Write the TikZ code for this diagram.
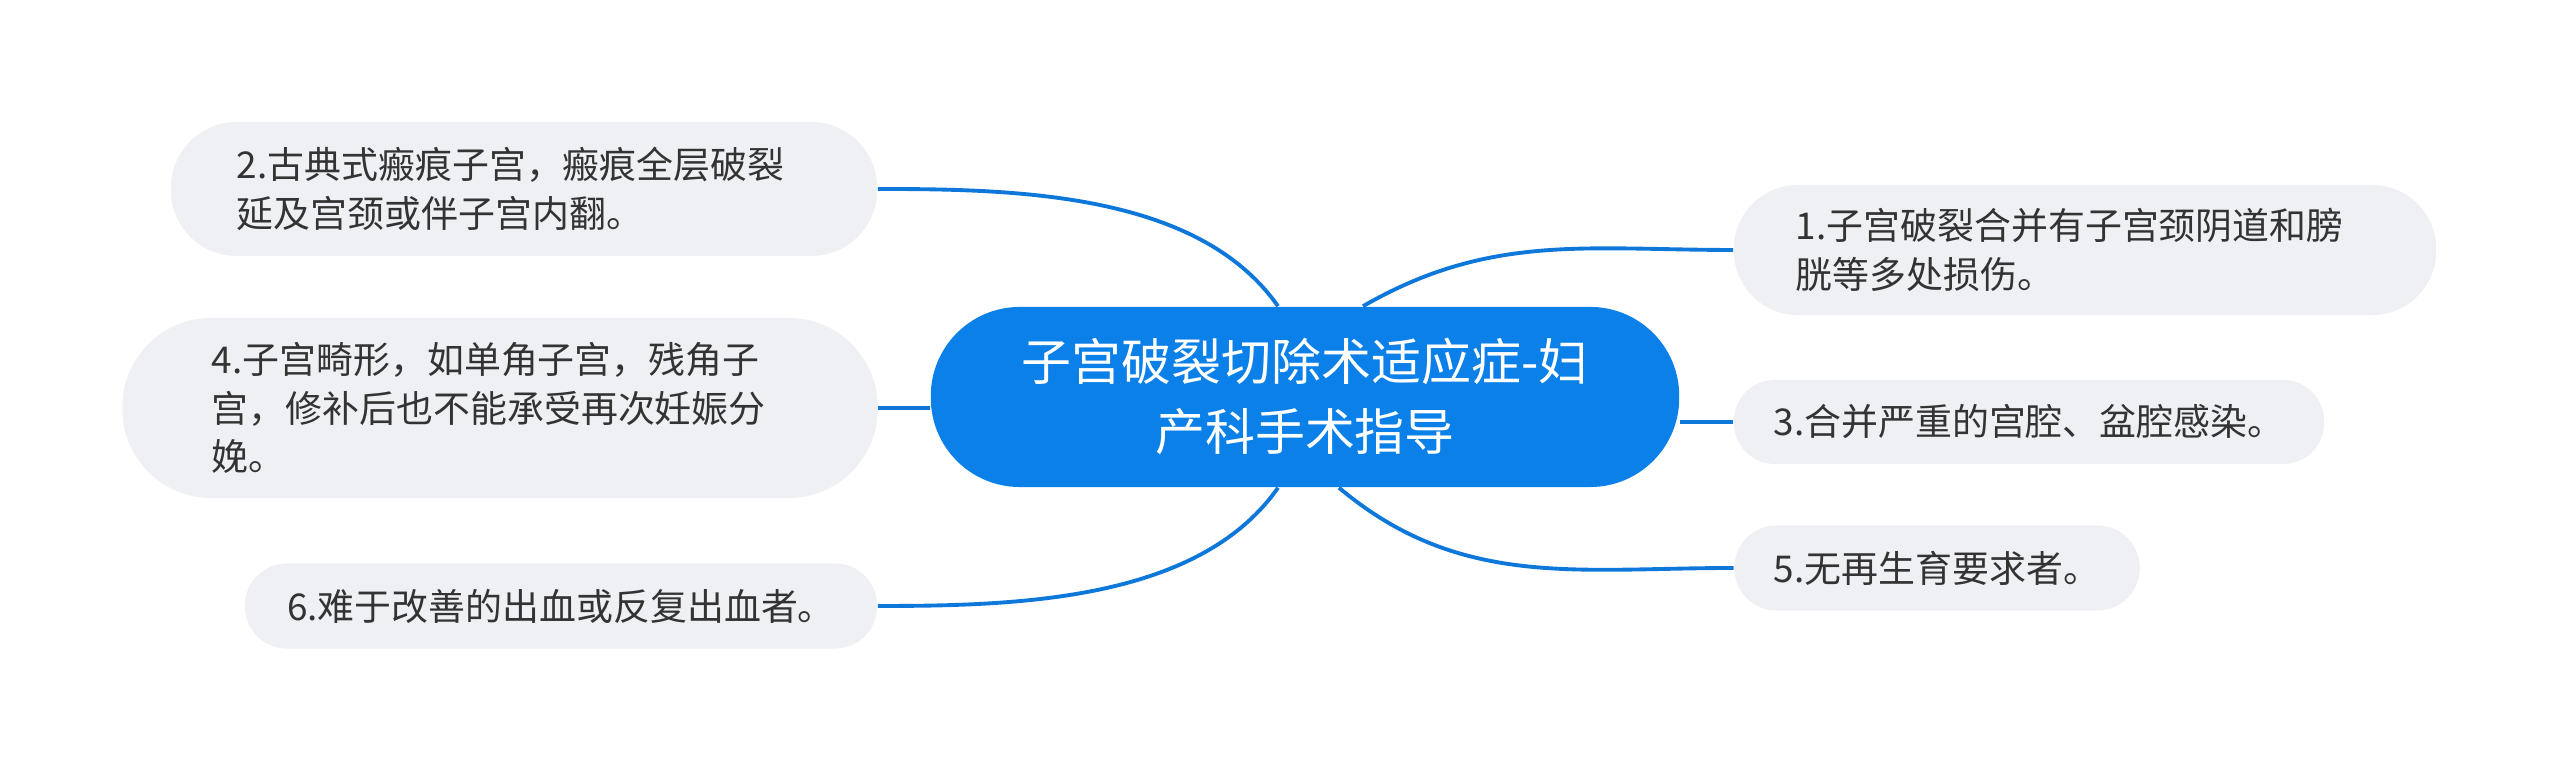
\documentclass[tikz,border=0pt]{standalone}
\usepackage{fontspec}
\setmainfont{Noto Sans CJK SC}
\usetikzlibrary{calc}

\definecolor{hubblue}{HTML}{0A80E8}
\definecolor{linkblue}{HTML}{0E78DA}
\definecolor{leafgray}{HTML}{EEF0F3}
\definecolor{leaftext}{HTML}{333333}

\begin{document}
\begin{tikzpicture}[x=0.01cm, y=0.01cm,
        hub/.style={fill=hubblue, text=white, align=center, rounded corners=0.89cm,
            minimum width=7.48cm, minimum height=1.8cm,
            font=\fontsize{14.2pt}{19.9pt}\selectfont},
        leaf/.style={fill=leafgray, text=leaftext, align=left,
            font=\fontsize{10.5pt}{13.9pt}\selectfont},
        link/.style={draw=linkblue, line width=1.1pt}]
    \useasboundingbox (0, 0) rectangle (2560, 771);

    \node[hub] (c) at (1305, 374) {子宫破裂切除术适应症-妇\\产科手术指导};

    \node[leaf, minimum width=7.06cm, minimum height=1.34cm, rounded corners=0.66cm, text width=5.74cm]
        (n2) at (524, 582) {2.古典式瘢痕子宫，瘢痕全层破裂\\延及宫颈或伴子宫内翻。};
    \node[leaf, minimum width=7.55cm, minimum height=1.8cm, rounded corners=0.89cm, text width=5.76cm]
        (n4) at (500, 363) {4.子宫畸形，如单角子宫，残角子\\宫，修补后也不能承受再次妊娠分\\娩。};
    \node[leaf, minimum width=6.32cm, minimum height=0.85cm, rounded corners=0.42cm]
        (n6) at (561, 165) {6.难于改善的出血或反复出血者。};
    \node[leaf, minimum width=7.02cm, minimum height=1.3cm, rounded corners=0.64cm, text width=5.78cm]
        (n1) at (2085, 521) {1.子宫破裂合并有子宫颈阴道和膀\\胱等多处损伤。};
    \node[leaf, minimum width=5.9cm, minimum height=0.84cm, rounded corners=0.41cm]
        (n3) at (2029, 349) {3.合并严重的宫腔、盆腔感染。};
    \node[leaf, minimum width=4.05cm, minimum height=0.85cm, rounded corners=0.42cm]
        (n5) at (1937, 203) {5.无再生育要求者。};

    \draw[link] ($(c.north)+(-27, 0)$) to[out=125, in=0, looseness=0.85] (n2.east);
    \draw[link] (n4.east) -- (n4.east -| c.west);
    \draw[link] ($(c.south)+(-27, 0)$) to[out=-125, in=0, looseness=0.85] (n6.east);
    \draw[link] ($(c.north)+(58, 0)$) to[out=30, in=180] (n1.west);
    \draw[link] (n3.west -| c.east) -- (n3.west);
    \draw[link] ($(c.south)+(34, 0)$) to[out=-40, in=180] (n5.west);
\end{tikzpicture}
\end{document}
